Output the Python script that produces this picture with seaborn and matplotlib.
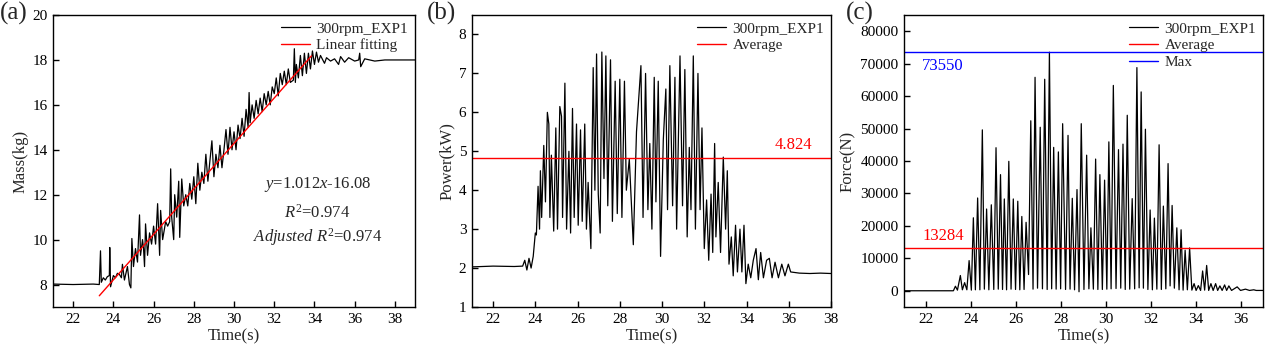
import matplotlib
matplotlib.use("Agg")
import matplotlib.pyplot as plt
import seaborn as sns
import numpy as np

# ---------------- data ----------------
mass_time = [21.0, 22.0, 23.0, 23.3, 23.36, 23.4, 23.5, 23.6, 23.7, 23.8, 23.82, 23.86, 24.0, 24.1, 24.2,
             24.3, 24.4, 24.45, 24.55, 24.6, 24.7, 24.8, 24.87, 24.92, 25.0, 25.1, 25.2, 25.3, 25.35,
             25.45, 25.5, 25.55, 25.6, 25.7, 25.8, 25.9, 26.0, 26.1, 26.2, 26.3, 26.35, 26.45, 26.6,
             26.7, 26.8, 26.85, 26.9, 27.0, 27.05, 27.15, 27.25, 27.3, 27.4, 27.5, 27.6, 27.7, 27.8,
             27.9, 28.0, 28.1, 28.2, 28.3, 28.4, 28.5, 28.6, 28.7, 28.8, 28.9, 29.0, 29.1, 29.2, 29.3,
             29.4, 29.5, 29.6, 29.7, 29.8, 29.9, 30.0, 30.1, 30.2, 30.3, 30.4, 30.5, 30.6, 30.7, 30.75,
             30.8, 30.9, 31.0, 31.1, 31.2, 31.3, 31.4, 31.5, 31.6, 31.7, 31.8, 31.9, 32.0, 32.1, 32.2,
             32.3, 32.4, 32.5, 32.6, 32.7, 32.8, 32.95, 33.0, 33.05, 33.1, 33.2, 33.3, 33.4, 33.5, 33.6,
             33.7, 33.8, 33.9, 34.0, 34.1, 34.2, 34.3, 34.5, 34.6, 34.8, 35.0, 35.2, 35.3, 35.5, 35.7,
             36.0, 36.2, 36.25, 36.3, 36.5, 37.0, 37.5, 38.0, 38.5, 39.0]
mass_value = [8.02, 8.0, 8.02, 8.0, 9.5, 8.1, 8.3, 8.2, 8.35, 8.4, 9.65, 7.9, 8.4, 8.3, 8.5,
              8.45, 8.3, 8.9, 8.2, 8.4, 8.8, 8.0, 7.85, 10.05, 8.8, 9.6, 9.0, 11.1, 9.3,
              10.0, 9.6, 8.8, 10.7, 9.3, 10.3, 9.8, 10.6, 9.8, 11.6, 9.3, 11.3, 10.0, 10.8,
              10.6, 10.8, 13.15, 11.0, 10.0, 12.0, 11.0, 12.6, 10.1, 12.7, 11.5, 12.0, 11.5, 12.5,
              11.8, 12.8, 11.6, 13.4, 12.2, 13.0, 12.5, 13.8, 12.6, 13.5, 14.4, 12.8, 13.8, 13.2, 14.2,
              13.2, 14.0, 14.9, 13.8, 15.0, 14.0, 14.8, 14.0, 15.1, 14.5, 15.4, 14.6, 15.8, 15.0, 16.55,
              15.2, 16.0, 15.4, 16.2, 15.6, 16.3, 15.7, 16.5, 16.0, 16.6, 16.0, 16.8, 16.5, 17.2, 16.4,
              17.4, 16.9, 17.5, 16.9, 17.6, 17.0, 17.1, 18.5, 17.0, 17.8, 17.2, 18.2, 17.3, 18.3, 17.4,
              18.3, 17.6, 18.4, 17.8, 18.35, 17.9, 18.2, 17.85, 18.1, 17.95, 18.05, 17.8, 18.15, 17.9, 18.1,
              17.95, 18.0, 18.3, 17.7, 18.05, 17.95, 18.0, 18.0, 18.0, 18.0]
fit_time = [23.3, 33.85]
fit_value = [7.50, 18.18]

power_time = [21.0, 22.0, 23.0, 23.4, 23.5, 23.6, 23.7, 23.8, 23.9, 24.0, 24.05, 24.13, 24.2, 24.24, 24.3,
              24.40, 24.48, 24.57, 24.64, 24.69, 24.76, 24.87, 24.97, 25.05, 25.16, 25.24, 25.29, 25.40,
              25.48, 25.59, 25.67, 25.76, 25.84, 25.95, 26.03, 26.14, 26.22, 26.34, 26.42, 26.50, 26.63,
              26.74, 26.82, 26.90, 26.98, 27.07, 27.15, 27.25, 27.34, 27.43, 27.56, 27.65, 27.78, 27.88,
              28.00, 28.10, 28.22, 28.31, 28.45, 28.64, 28.79, 29.00, 29.10, 29.22, 29.33, 29.42, 29.52,
              29.63, 29.71, 29.82, 29.93, 30.06, 30.18, 30.26, 30.37, 30.50, 30.61, 30.69, 30.85, 30.97,
              31.08, 31.19, 31.29, 31.37, 31.48, 31.58, 31.70, 31.80, 31.89, 32.00, 32.11, 32.21, 32.32,
              32.40, 32.49, 32.55, 32.66, 32.77, 32.90, 33.01, 33.09, 33.17, 33.28, 33.37, 33.48, 33.57,
              33.69, 33.78, 33.88, 33.97, 34.08, 34.20, 34.32, 34.45, 34.56, 34.67, 34.80, 34.95, 35.08,
              35.21, 35.35, 35.51, 35.67, 35.82, 35.98, 36.09, 36.5, 37.0, 37.5, 38.0]
power_value = [2.03, 2.05, 2.04, 2.05, 2.2, 1.95, 2.25, 2.0, 2.3, 2.9, 2.85, 4.1, 3.0, 4.5, 3.3,
               5.15, 3.7, 6.0, 5.7, 3.3, 4.9, 2.95, 5.6, 3.0, 6.15, 5.9, 3.3, 6.75,
               3.0, 5.0, 2.9, 6.1, 3.3, 5.7, 3.1, 5.55, 3.2, 5.7, 3.0, 4.2, 2.5,
               7.15, 4.0, 7.5, 3.9, 2.9, 7.55, 4.3, 7.45, 3.6, 7.35, 3.2, 6.8, 3.4,
               6.85, 3.3, 6.8, 4.0, 4.8, 2.6, 5.5, 7.2, 3.3, 7.0, 3.5, 5.2, 3.0,
               6.9, 3.7, 6.8, 2.3, 5.3, 6.6, 3.5, 7.2, 3.6, 6.9, 3.0, 7.45, 3.6,
               7.1, 2.8, 5.1, 3.5, 7.45, 3.0, 7.0, 3.5, 5.6, 2.5, 3.75, 2.2, 3.9,
               2.4, 5.2, 2.8, 4.2, 2.4, 4.85, 3.0, 4.5, 2.1, 2.8, 1.8, 3.1, 1.9,
               3.0, 1.9, 3.1, 1.6, 2.1, 1.75, 2.2, 2.5, 1.7, 2.4, 1.75, 2.2, 2.25,
               1.75, 2.15, 1.75, 2.1, 1.8, 2.1, 1.9, 1.87, 1.86, 1.87, 1.86]
power_average = 4.824

force_time = [21.0, 23.2, 23.29, 23.38, 23.51, 23.6, 23.70, 23.8, 23.90, 24.0, 24.09, 24.18, 24.28, 24.38,
              24.49, 24.58, 24.68, 24.78, 24.89, 25.0, 25.10, 25.2, 25.30, 25.39, 25.47, 25.57, 25.67,
              25.77, 25.87, 25.97, 26.07, 26.16, 26.25, 26.35, 26.44, 26.55, 26.65, 26.75, 26.84, 26.95,
              27.07, 27.17, 27.27, 27.38, 27.48, 27.58, 27.67, 27.78, 27.88, 27.98, 28.07, 28.2, 28.31,
              28.4, 28.50, 28.6, 28.71, 28.8, 28.90, 29.02, 29.14, 29.24, 29.33, 29.44, 29.54, 29.64,
              29.73, 29.84, 29.94, 30.04, 30.13, 30.23, 30.33, 30.45, 30.56, 30.66, 30.76, 30.86, 30.95,
              31.06, 31.17, 31.28, 31.38, 31.48, 31.57, 31.67, 31.76, 31.87, 31.97, 32.07, 32.16, 32.27,
              32.37, 32.47, 32.56, 32.67, 32.77, 32.86, 32.95, 33.05, 33.16, 33.26, 33.35, 33.44, 33.53,
              33.63, 33.73, 33.83, 33.93, 34.02, 34.12, 34.22, 34.31, 34.4, 34.49, 34.58, 34.68, 34.78,
              34.89, 34.98, 35.08, 35.18, 35.29, 35.38, 35.48, 35.6, 35.85, 36.0, 36.22, 36.4, 36.59,
              36.7, 37.0]
force_value = [0, 0, 1400, 200, 4700, 300, 2500, 300, 9300, 200, 22500, 300, 28600, 300,
               49600, 500, 25200, 300, 26500, 400, 44100, 500, 35800, 400, 28300, 300, 39900,
               500, 28300, 400, 27600, 300, 22900, 400, 21100, 5000, 52400, 500, 65800, 800,
               50400, 600, 65200, 400, 73550, 600, 44200, 500, 42800, 600, 51500, 400, 47900,
               500, 28500, 300, 31200, -300, 51500, 400, 41800, 600, 19400, 500, 40600, 400,
               35800, 400, 34100, 500, 45900, 600, 63300, 700, 43500, 800, 45200, 400, 54100,
               500, 28400, 600, 68800, 900, 61300, 800, 49800, 400, 24900, 300, 22400, 500,
               45000, 400, 26100, 600, 39200, 1500, 26300, 800, 19400, 300, 18800, 200, 12500,
               300, 13200, 200, 2200, 100, 1600, 100, 6100, 200, 7800, 100, 2200, 100,
               2200, 100, 1500, 100, 1800, 100, 1500, 100, 1200, 100, 500, 100, 300,
               100, 100]
force_average = 13284
force_max = 73550

# ---------------- style ----------------
sns.set_theme(style="ticks")
plt.rcParams["font.family"] = ["Liberation Serif", "DejaVu Serif"]
plt.rcParams["mathtext.fontset"] = "custom"
plt.rcParams["mathtext.rm"] = "Liberation Serif"
plt.rcParams["mathtext.it"] = "Liberation Serif:italic"
plt.rcParams["axes.linewidth"] = 1.0
plt.rcParams["axes.edgecolor"] = "black"

fig = plt.figure(figsize=(12.66, 3.58), dpi=100)
bottom, top = 0.1425, 0.958
h = top - bottom
ax1 = fig.add_axes([0.0419, bottom, 0.3278 - 0.0419, h])
ax2 = fig.add_axes([0.3728, bottom, 0.6564 - 0.3728, h])
ax3 = fig.add_axes([0.7141, bottom, 0.9976 - 0.7141, h])

TICK = 11
LAB = 12
LEG = 11


def style(ax):
    for s in ax.spines.values():
        s.set_visible(True)
        s.set_color("black")
        s.set_linewidth(1.0)
    ax.tick_params(direction="in", length=4, width=1, labelsize=TICK, colors="black",
                   top=False, right=False, pad=4)
    ax.set_xlabel("Time(s)", fontsize=LAB, labelpad=2)


# (a)
sns.lineplot(x=mass_time, y=mass_value, ax=ax1, color="black", lw=0.9, label="300rpm_EXP1",
             estimator=None, sort=False)
sns.lineplot(x=fit_time, y=fit_value, ax=ax1, color="red", lw=1.0, label="Linear fitting",
             estimator=None, sort=False)
ax1.set_xlim(21, 39)
ax1.set_ylim(7, 20)
ax1.set_xticks(np.arange(22, 39, 2))
ax1.set_yticks(np.arange(8, 21, 2))
ax1.set_ylabel("Mass(kg)", fontsize=LAB, labelpad=3)
style(ax1)
ax1.text(0.73, 0.418, r"$y$=1.012$x$-16.08", transform=ax1.transAxes, ha="center", va="center", fontsize=12)
ax1.text(0.73, 0.322, r"$R^2$=0.974", transform=ax1.transAxes, ha="center", va="center", fontsize=12)
ax1.text(0.73, 0.24, r"$\mathit{Adjusted}\ R^2$=0.974", transform=ax1.transAxes, ha="center", va="center", fontsize=12)

# (b)
sns.lineplot(x=power_time, y=power_value, ax=ax2, color="black", lw=0.9, label="300rpm_EXP1",
             estimator=None, sort=False)
ax2.axhline(power_average, color="red", lw=1.0, label="Average")
ax2.set_xlim(21, 38)
ax2.set_ylim(1, 8.5)
ax2.set_xticks(np.arange(22, 39, 2))
ax2.set_yticks(np.arange(1, 9, 1))
ax2.set_ylabel("Power(kW)", fontsize=LAB, labelpad=3)
style(ax2)
ax2.text(36.2, power_average + 0.12, f"{power_average:.3f}", color="red", fontsize=12,
         ha="center", va="bottom")

# (c)
sns.lineplot(x=force_time, y=force_value, ax=ax3, color="black", lw=0.9, label="300rpm_EXP1",
             estimator=None, sort=False)
ax3.axhline(force_average, color="red", lw=1.0, label="Average")
ax3.axhline(force_max, color="blue", lw=1.0, label="Max")
ax3.set_xlim(21, 37)
ax3.set_ylim(-5000, 85000)
ax3.set_xticks(np.arange(22, 37, 2))
ax3.set_yticks(np.arange(0, 80001, 10000))
ax3.set_ylabel("Force(N)", fontsize=LAB, labelpad=3)
style(ax3)
ax3.text(21.8, force_max - 1800, f"{force_max}", color="blue", fontsize=12, ha="left", va="top")
ax3.text(21.8, force_average + 1200, f"{force_average}", color="red", fontsize=12, ha="left", va="bottom")

for ax in (ax1, ax2, ax3):
    ax.legend(loc="upper right", frameon=False, fontsize=LEG, handlelength=1.9,
              labelspacing=0.2, borderaxespad=0.35, borderpad=0.1, handletextpad=0.4)

fig.text(0.0, 0.962, "(a)", fontsize=18, ha="left", va="center")
fig.text(0.337, 0.962, "(b)", fontsize=18, ha="left", va="center")
fig.text(0.668, 0.962, "(c)", fontsize=18, ha="left", va="center")

fig.savefig("out.png", dpi=100)
